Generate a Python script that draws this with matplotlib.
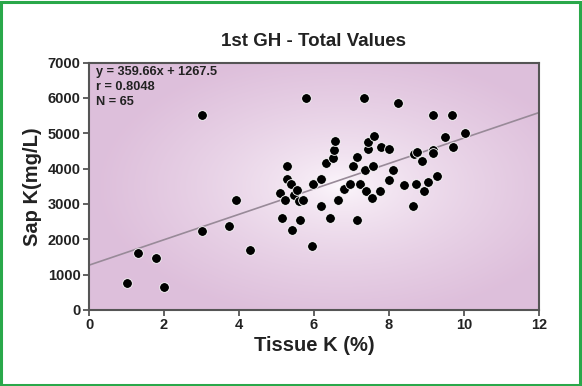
import numpy as np
import matplotlib.pyplot as plt
from matplotlib.patches import Rectangle

plt.rcParams['font.family'] = ['Liberation Sans', 'DejaVu Sans']

# tissue K (%) and sap K (mg/L)
tissue_k = [1.0, 1.30, 1.79, 2.01, 3.0, 3.02, 3.74, 3.92, 4.30, 5.09,
            5.16, 5.23, 5.27, 5.27, 5.40, 5.41, 5.47, 5.55, 5.61, 5.62,
            5.72, 5.80, 5.96, 5.98, 6.19, 6.19, 6.32, 6.42, 6.50, 6.54,
            6.55, 6.64, 6.79, 6.95, 7.03, 7.14, 7.14, 7.24, 7.33, 7.35,
            7.39, 7.43, 7.45, 7.56, 7.58, 7.60, 7.75, 7.79, 8.00, 8.00,
            8.11, 8.24, 8.40, 8.65, 8.66, 8.74, 8.73, 8.89, 8.94, 9.04,
            9.17, 9.18, 9.18, 9.29, 9.49, 9.67, 9.71, 10.04]
sap_k = [764, 1613, 1462, 651, 5509, 2226, 2368, 3104, 1698, 3321,
         2613, 3104, 4066, 3717, 3575, 2255, 3255, 3396, 3075, 2557,
         3113, 6009, 1811, 3557, 3717, 2953, 4151, 2613, 4292, 4519,
         4792, 3113, 3434, 3557, 4066, 4321, 2557, 3557, 6009, 3953,
         3368, 4566, 4755, 3179, 4066, 4934, 3368, 4613, 4566, 3679,
         3953, 5858, 3538, 2953, 4415, 4462, 3557, 4208, 3377, 3632,
         5509, 4538, 4453, 3783, 4896, 5509, 4604, 5009]

slope = 359.66
intercept = 1267.5
stats_text = 'y = 359.66x + 1267.5\nr = 0.8048\nN = 65'

fig = plt.figure(figsize=(5.82, 3.86), dpi=100)
fig.patch.set_facecolor('white')
fig.patches.append(Rectangle((0.002, 0.003), 0.995, 0.993, transform=fig.transFigure,
                             fill=False, edgecolor='#2aa84a', linewidth=2.2))

ax = fig.add_axes([0.153, 0.197, 0.773, 0.641])
ax.set_xlim(0, 12)
ax.set_ylim(0, 7000)

# radial background shading, light in the middle
gx, gy = np.meshgrid(np.linspace(0, 1, 300), np.linspace(0, 1, 200))
d = np.sqrt(((gx - 0.56) / 0.75) ** 2 + ((gy - 0.50) / 0.75) ** 2)
t = np.clip(d / 0.72, 0, 1) ** 0.65
edge = np.array([0.87, 0.75, 0.86])
center = np.array([0.995, 0.98, 0.995])
img = center + (edge - center) * t[..., None]
ax.imshow(img, extent=[0, 12, 0, 7000], origin='lower', aspect='auto', zorder=0)

xs = np.array([0, 12])
ax.plot(xs, slope * xs + intercept, color='#988a98', linewidth=1.2, zorder=2)
ax.plot(tissue_k, sap_k, 'o', color='black', markersize=7,
        markeredgecolor='white', markeredgewidth=0.6, zorder=3)

ax.text(0.016, 0.985, stats_text, transform=ax.transAxes, va='top', ha='left',
        fontsize=9.2, fontweight='bold', color='#222222', linespacing=1.3)

ax.set_xticks([0, 2, 4, 6, 8, 10, 12])
ax.set_yticks(range(0, 7001, 1000))
for s in ax.spines.values():
    s.set_color('#555555')
    s.set_linewidth(1.5)
ax.tick_params(direction='out', length=4, width=1.3, color='#555555',
               labelsize=10.5, pad=2)
for lab in ax.get_xticklabels() + ax.get_yticklabels():
    lab.set_fontweight('bold')
    lab.set_color('#222222')

ax.set_xlabel('Tissue K (%)', fontsize=14.5, fontweight='bold', color='#222222', labelpad=3)
ax.set_ylabel('Sap K(mg/L)', fontsize=14.5, fontweight='bold', color='#222222', labelpad=4)
ax.set_title('1st GH - Total Values', fontsize=13.5, fontweight='bold', color='#222222', pad=12)

fig.savefig('out.png', dpi=100)
